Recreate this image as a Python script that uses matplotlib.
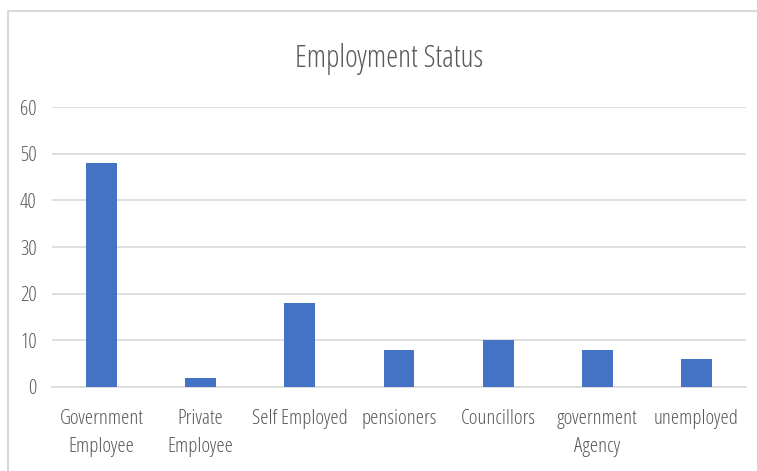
import matplotlib
matplotlib.use("Agg")
import matplotlib.pyplot as plt
from matplotlib.patches import Rectangle
from matplotlib.font_manager import FontProperties

# Data
categories = ["Government\nEmployee", "Private\nEmployee", "Self Employed", "pensioners",
              "Councillors", "government\nAgency", "unemployed"]
values = [48, 2, 18, 8, 10, 8, 6]
yticks = [0, 10, 20, 30, 40, 50, 60]

text_color = "#595959"
grid_color = "#d9d9d9"
bar_color = "#4472c4"

tick_font = FontProperties(family="Open Sans", stretch="condensed", weight="light", size=15)
title_font = FontProperties(family="Open Sans", stretch="condensed", weight="light", size=22)

fig = plt.figure(figsize=(7.57, 4.71), dpi=100)
fig.patch.set_facecolor("white")

# chart frame (top and left edges visible)
fig.add_artist(Rectangle((7.5 / 757, -0.1), 1.2, 1.1 - 10.5 / 471, transform=fig.transFigure,
                         fill=False, edgecolor="#d9d9d9", linewidth=1.5))

ax = fig.add_axes([52 / 757, 84 / 471, 694 / 757, 280 / 471])
x = range(len(categories))
ax.bar(x, values, width=0.31, color=bar_color, zorder=3)

ax.set_ylim(0, 60)
ax.set_xlim(-0.5, len(categories) - 0.5)
ax.set_yticks(yticks)
ax.set_yticklabels([str(t) for t in yticks], fontproperties=tick_font, color=text_color)
ax.set_xticks(list(x))
ax.set_xticklabels(categories, fontproperties=tick_font, color=text_color, linespacing=1.5)
ax.tick_params(axis="both", length=0)
ax.tick_params(axis="y", pad=11)
ax.tick_params(axis="x", pad=16)

ax.grid(axis="y", color=grid_color, linewidth=1.2, zorder=0)
for s in ["top", "right", "left"]:
    ax.spines[s].set_visible(False)
ax.spines["bottom"].set_color(grid_color)
ax.spines["bottom"].set_linewidth(1.2)

fig.text(389 / 757, 1 - 67 / 471, "Employment Status", ha="center", va="baseline",
         fontproperties=title_font, color=text_color)

fig.savefig("out.png", dpi=100)
